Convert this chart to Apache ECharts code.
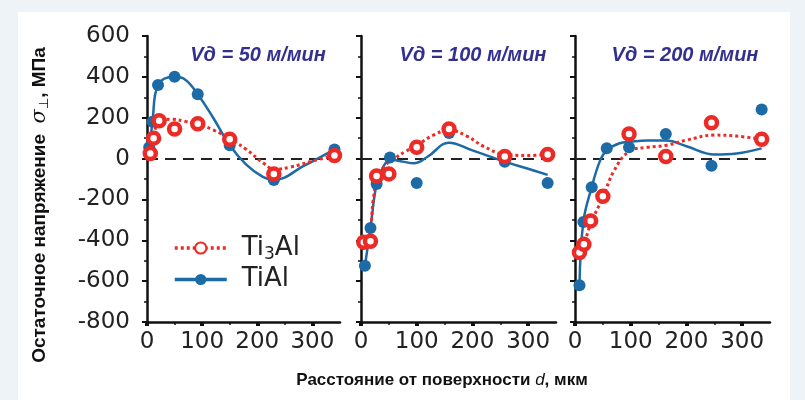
<!DOCTYPE html>
<html>
<head>
<meta charset="utf-8">
<script src="https://cdn.jsdelivr.net/npm/echarts@6/dist/echarts.min.js"></script>
<style>
  html, body { margin: 0; padding: 0; background: #eef3f8; }
  #chart { width: 805px; height: 400px; }
</style>
</head>
<body>
<div id="chart"></div>
<script>
// ---- data ----
const xTickValues = [0, 100, 200, 300];
const yTickLabels = ['-800', '-600', '-400', '-200', '0', '200', '400', '600'];
const panelTitles = ['Vд = 50 м/мин', 'Vд = 100 м/мин', 'Vд = 200 м/мин'];
const seriesNames = ['Ti3Al', 'TiAl'];

// Vд = 50 м/мин
const ti3alPoints50 = [[6, 25], [12, 100], [22, 185], [50, 145], [92, 170], [150, 95], [230, -75], [340, 15]];
const tialPoints50  = [[4, 55], [10, 180], [20, 360], [50, 400], [92, 315], [150, 65], [230, -105], [340, 45]];
const ti3alCurve50  = [[6, 25], [12, 100], [22, 185], [45, 192], [70, 182], [92, 170], [120, 140], [150, 98], [180, 45], [210, -20], [231, -52], [260, -42], [300, -12], [340, 15]];
const tialCurve50   = [[4, 40], [10, 180], [20, 360], [50, 400], [70, 385], [92, 315], [120, 200], [150, 65], [180, -30], [210, -90], [230, -105], [285, -35], [340, 45]];

// Vд = 100 м/мин
const ti3alPoints100 = [[5, -410], [17, -405], [28, -85], [50, -75], [100, 55], [158, 145], [258, 10], [335, 20]];
const tialPoints100  = [[7, -525], [17, -340], [28, -125], [52, 5], [100, -120], [158, 125], [258, -15], [335, -120]];
const ti3alCurve100  = [[5, -410], [15, -380], [22, -200], [30, -90], [45, -30], [60, 0], [80, 35], [100, 65], [130, 115], [158, 140], [190, 110], [220, 60], [258, 20], [300, 15], [335, 20]];
const tialCurve100   = [[7, -525], [17, -340], [28, -125], [40, -40], [53, -5], [75, -15], [95, -23], [120, 10], [158, 78], [200, 40], [258, -15], [300, -50], [335, -80]];

// Vд = 200 м/мин
const ti3alPoints200 = [[8, -460], [16, -420], [28, -305], [50, -185], [97, 120], [163, 10], [245, 175], [335, 95]];
const tialPoints200  = [[8, -620], [15, -310], [30, -140], [57, 50], [97, 55], [163, 120], [245, -35], [335, 240]];
const ti3alCurve200  = [[8, -460], [16, -420], [28, -320], [50, -190], [70, -60], [97, 35], [130, 55], [164, 65], [200, 90], [250, 115], [290, 110], [335, 95]];
const tialCurve200   = [[8, -620], [15, -310], [30, -140], [45, -10], [57, 40], [80, 75], [100, 82], [130, 88], [164, 88], [200, 60], [250, 20], [290, 25], [335, 50]];

const panels = [
  { ti3alPts: ti3alPoints50,  tialPts: tialPoints50,  ti3alCurve: ti3alCurve50,  tialCurve: tialCurve50 },
  { ti3alPts: ti3alPoints100, tialPts: tialPoints100, ti3alCurve: ti3alCurve100, tialCurve: tialCurve100 },
  { ti3alPts: ti3alPoints200, tialPts: tialPoints200, ti3alCurve: ti3alCurve200, tialCurve: tialCurve200 }
];

// ---- styles ----
const RED = '#ec2b27';
const BLUE = '#1c6aa6';
const AXIS = '#111';
const LABEL = '#222';
const gridLefts = [147, 361, 575];
const gridWidths = [193, 195, 195];
const titleCenters = [253, 468, 680];

const chart = echarts.init(document.getElementById('chart'), null, { renderer: 'canvas' });

const grids = [], xAxes = [], yAxes = [], titles = [], series = [];
panels.forEach((p, i) => {
  grids.push({ left: gridLefts[i], width: gridWidths[i], top: 36, height: 286 });
  xAxes.push({
    type: 'value', gridIndex: i, min: 0, max: 350, interval: 100,
    axisLine: { show: true, onZero: false, lineStyle: { color: AXIS, width: 2.5 } },
    axisTick: { show: true, inside: false, length: 4, lineStyle: { color: AXIS, width: 4 }, customValues: xTickValues },
    minorTick: { show: true, splitNumber: 2, length: 3, lineStyle: { color: AXIS, width: 1.5 } },
    axisLabel: { show: true, customValues: xTickValues, margin: 9, fontSize: 23, fontFamily: 'DejaVu Sans', color: LABEL },
    splitLine: { show: false }
  });
  yAxes.push({
    type: 'value', gridIndex: i, min: -800, max: 600, interval: 200,
    axisLine: { show: true, onZero: false, lineStyle: { color: AXIS, width: 2.5 } },
    axisTick: { show: true, inside: false, length: 5, lineStyle: { color: AXIS, width: 2 } },
    minorTick: { show: true, splitNumber: 2, length: 3, lineStyle: { color: AXIS, width: 1.5 } },
    axisLabel: { show: i === 0, margin: 17, fontSize: 23, fontFamily: 'DejaVu Sans', color: LABEL,
      formatter: v => yTickLabels.includes(String(v)) ? String(v) : '' },
    splitLine: { show: false }
  });
  titles.push({
    text: panelTitles[i], left: titleCenters[i], top: 40, textAlign: 'center',
    textStyle: { fontSize: 20, fontWeight: 'bold', fontStyle: 'italic', color: '#33308f', fontFamily: 'Liberation Sans' }
  });
  series.push({
    name: 'TiAl', type: 'line', xAxisIndex: i, yAxisIndex: i, data: p.tialCurve,
    smooth: 0.4, symbol: 'circle', showSymbol: false, silent: true,
    lineStyle: { color: BLUE, width: 2.5 }, itemStyle: { color: BLUE }, z: 3,
    markLine: {
      silent: true, symbol: ['none', 'none'], label: { show: false },
      lineStyle: { color: '#222', type: [11, 7], width: 2 },
      data: [{ yAxis: 0 }], z: 1
    }
  });
  series.push({
    name: 'Ti3Al', type: 'line', xAxisIndex: i, yAxisIndex: i, data: p.ti3alCurve,
    smooth: 0.4, symbol: 'emptyCircle', showSymbol: false, silent: true,
    lineStyle: { color: RED, width: 3, type: [3, 3] }, itemStyle: { color: RED }, z: 4
  });
  series.push({
    name: 'TiAl', type: 'scatter', xAxisIndex: i, yAxisIndex: i, data: p.tialPts,
    symbol: 'circle', symbolSize: 12, itemStyle: { color: BLUE, opacity: 1 }, z: 5
  });
  series.push({
    name: 'Ti3Al', type: 'scatter', xAxisIndex: i, yAxisIndex: i, data: p.ti3alPts,
    symbol: 'circle', symbolSize: 11, itemStyle: { color: '#fff', borderColor: RED, borderWidth: 4.5, opacity: 1 }, z: 6
  });
});

chart.setOption({
  backgroundColor: '#eef3f8',
  animation: false,
  title: titles,
  grid: grids,
  xAxis: xAxes,
  yAxis: yAxes,
  legend: {
    data: seriesNames, orient: 'vertical', left: 168, top: 230,
    itemWidth: 52, itemHeight: 14, itemGap: 3,
    lineStyle: { width: 3.5 },
    textStyle: {
      fontSize: 26, fontFamily: 'DejaVu Sans', color: LABEL, padding: [0, 0, 0, 10],
      rich: { sub: { fontSize: 17, fontFamily: 'DejaVu Sans', color: LABEL, verticalAlign: 'bottom', padding: [14, 0, 0, 0] } }
    },
    formatter: name => name === 'Ti3Al' ? 'Ti{sub|3}Al' : name
  },
  graphic: [
    { type: 'rect', z: -10, shape: { x: 18, y: 12, width: 772, height: 388 }, style: { fill: '#ffffff' }, silent: true },
    {
      type: 'text', x: 40, y: 205, rotation: Math.PI / 2, silent: true,
      style: {
        text: 'Остаточное напряжение  {s|σ}{b|⊥}{t|, МПа}',
        fontFamily: 'Liberation Sans', fontWeight: 'bold', fontSize: 19, fill: '#111',
        align: 'center', verticalAlign: 'middle',
        rich: {
          s: { fontFamily: 'DejaVu Serif', fontStyle: 'italic', fontSize: 21, fill: '#111' },
          b: { fontFamily: 'DejaVu Sans', fontSize: 13, fill: '#111', padding: [9, 0, 0, 0] },
          t: { fontFamily: 'Liberation Sans', fontWeight: 'bold', fontSize: 19, fill: '#111' }
        }
      }
    },
    {
      type: 'text', x: 442, y: 380, silent: true,
      style: {
        text: 'Расстояние от поверхности {d|d}, мкм',
        fontFamily: 'Liberation Sans', fontWeight: 'bold', fontSize: 17, fill: '#111',
        align: 'center', verticalAlign: 'middle',
        rich: { d: { fontFamily: 'Liberation Sans', fontStyle: 'italic', fontWeight: 'normal', fontSize: 17, fill: '#111' } }
      }
    }
  ],
  series: series
});
</script>
</body>
</html>
